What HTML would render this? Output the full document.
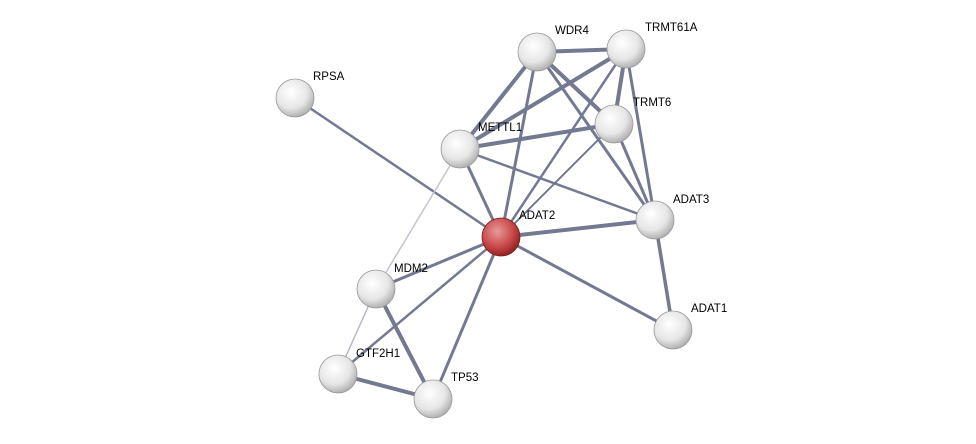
<!DOCTYPE html>
<html><head><style>body{margin:0;background:#fff}svg{display:block}text{font-family:"Liberation Sans",sans-serif;font-size:11.5px;fill:#000}</style></head><body>
<svg width="976" height="444" viewBox="0 0 976 444">
<defs>
<radialGradient id="g" cx="0.4" cy="0.35" r="0.7"><stop offset="0" stop-color="#fff"/><stop offset="0.6" stop-color="#e6e6e6"/><stop offset="1" stop-color="#a8a8a8"/></radialGradient>
<radialGradient id="r" cx="0.4" cy="0.35" r="0.7"><stop offset="0" stop-color="#e89a9a"/><stop offset="0.6" stop-color="#c84848"/><stop offset="1" stop-color="#8a1c1c"/></radialGradient>
</defs>
<g stroke="#5c6280" stroke-linecap="round" opacity="0.85">
<line x1="295" y1="98" x2="501" y2="237" stroke-width="2.5"/>
<line x1="460" y1="149" x2="501" y2="237" stroke-width="3"/>
<line x1="460" y1="149" x2="537" y2="52" stroke-width="4"/>
<line x1="460" y1="149" x2="626" y2="49" stroke-width="4"/>
<line x1="460" y1="149" x2="614" y2="124" stroke-width="4"/>
<line x1="460" y1="149" x2="655" y2="220" stroke-width="2.5"/>
<line x1="460" y1="149" x2="376" y2="289" stroke-width="1.5" stroke="#b8bac8"/>
<line x1="501" y1="237" x2="537" y2="52" stroke-width="3"/>
<line x1="501" y1="237" x2="626" y2="49" stroke-width="2.5"/>
<line x1="501" y1="237" x2="614" y2="124" stroke-width="2"/>
<line x1="501" y1="237" x2="655" y2="220" stroke-width="4"/>
<line x1="501" y1="237" x2="673" y2="330" stroke-width="3"/>
<line x1="501" y1="237" x2="376" y2="289" stroke-width="3"/>
<line x1="501" y1="237" x2="338" y2="374" stroke-width="2.5"/>
<line x1="501" y1="237" x2="433" y2="399" stroke-width="3"/>
<line x1="537" y1="52" x2="626" y2="49" stroke-width="4"/>
<line x1="537" y1="52" x2="614" y2="124" stroke-width="4"/>
<line x1="537" y1="52" x2="655" y2="220" stroke-width="3"/>
<line x1="626" y1="49" x2="614" y2="124" stroke-width="4"/>
<line x1="626" y1="49" x2="655" y2="220" stroke-width="3"/>
<line x1="614" y1="124" x2="655" y2="220" stroke-width="3"/>
<line x1="655" y1="220" x2="673" y2="330" stroke-width="3.5"/>
<line x1="376" y1="289" x2="433" y2="399" stroke-width="4"/>
<line x1="376" y1="289" x2="338" y2="374" stroke-width="1.5" stroke="#a8aabc"/>
<line x1="338" y1="374" x2="433" y2="399" stroke-width="4"/>
</g>
<g stroke="#999" stroke-width="0.8">
<circle cx="295" cy="98" r="19" fill="url(#g)"/>
<circle cx="537" cy="52" r="19" fill="url(#g)"/>
<circle cx="626" cy="49" r="19" fill="url(#g)"/>
<circle cx="614" cy="124" r="19" fill="url(#g)"/>
<circle cx="460" cy="149" r="19" fill="url(#g)"/>
<circle cx="655" cy="220" r="19" fill="url(#g)"/>
<circle cx="376" cy="289" r="19" fill="url(#g)"/>
<circle cx="673" cy="330" r="19" fill="url(#g)"/>
<circle cx="338" cy="374" r="19" fill="url(#g)"/>
<circle cx="433" cy="399" r="19" fill="url(#g)"/>
<circle cx="501" cy="237" r="19" fill="url(#r)" stroke="#7a1a1a"/>
</g>
<text x="313" y="80">RPSA</text>
<text x="555" y="34">WDR4</text>
<text x="645" y="31">TRMT61A</text>
<text x="633" y="106">TRMT6</text>
<text x="478" y="131">METTL1</text>
<text x="519" y="219">ADAT2</text>
<text x="673" y="203">ADAT3</text>
<text x="394" y="272">MDM2</text>
<text x="691" y="312">ADAT1</text>
<text x="356" y="357">GTF2H1</text>
<text x="451" y="381">TP53</text>
</svg>
</body></html>
